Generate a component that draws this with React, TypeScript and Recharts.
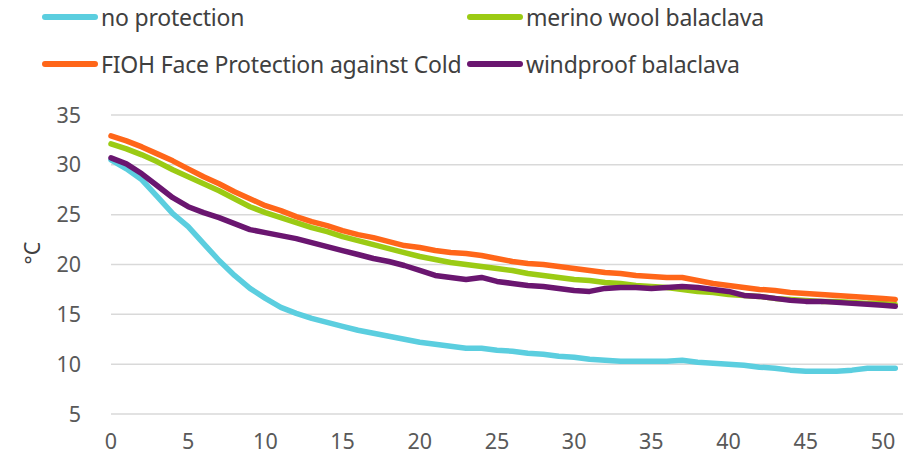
import { CartesianGrid, Line, LineChart, XAxis, YAxis } from "recharts";

// minutes
const minutes = [
  0, 1, 2, 3, 4, 5, 6, 7, 8, 9, 10, 11, 12, 13, 14, 15, 16, 17, 18, 19, 20,
  21, 22, 23, 24, 25, 26, 27, 28, 29, 30, 31, 32, 33, 34, 35, 36, 37, 38, 39,
  40, 41, 42, 43, 44, 45, 46, 47, 48, 49, 50, 50.8,
];

// °C
const noProtection = [
  30.5, 29.6, 28.5, 26.8, 25.1, 23.8, 22.1, 20.4, 18.9, 17.6, 16.6, 15.7,
  15.1, 14.6, 14.2, 13.8, 13.4, 13.1, 12.8, 12.5, 12.2, 12.0, 11.8, 11.6,
  11.6, 11.4, 11.3, 11.1, 11.0, 10.8, 10.7, 10.5, 10.4, 10.3, 10.3, 10.3,
  10.3, 10.4, 10.2, 10.1, 10.0, 9.9, 9.7, 9.6, 9.4, 9.3, 9.3, 9.3, 9.4, 9.6,
  9.6, 9.6,
];
const merino = [
  32.1, 31.6, 31.0, 30.3, 29.5, 28.8, 28.1, 27.4, 26.6, 25.8, 25.2, 24.7,
  24.2, 23.7, 23.3, 22.8, 22.4, 22.0, 21.6, 21.2, 20.8, 20.5, 20.2, 20.0,
  19.8, 19.6, 19.4, 19.1, 18.9, 18.7, 18.5, 18.4, 18.2, 18.1, 17.9, 17.8,
  17.7, 17.5, 17.3, 17.2, 17.0, 16.9, 16.8, 16.6, 16.5, 16.4, 16.3, 16.3,
  16.2, 16.1, 16.1, 16.0,
];
const fioh = [
  32.9, 32.4, 31.8, 31.1, 30.4, 29.6, 28.8, 28.1, 27.3, 26.6, 25.9, 25.4,
  24.8, 24.3, 23.9, 23.4, 23.0, 22.7, 22.3, 21.9, 21.7, 21.4, 21.2, 21.1,
  20.9, 20.6, 20.3, 20.1, 20.0, 19.8, 19.6, 19.4, 19.2, 19.1, 18.9, 18.8,
  18.7, 18.7, 18.4, 18.1, 17.9, 17.7, 17.5, 17.4, 17.2, 17.1, 17.0, 16.9,
  16.8, 16.7, 16.6, 16.5,
];
const windproof = [
  30.7, 30.1, 29.1, 27.9, 26.7, 25.8, 25.2, 24.7, 24.1, 23.5, 23.2, 22.9,
  22.6, 22.2, 21.8, 21.4, 21.0, 20.6, 20.3, 19.9, 19.4, 18.9, 18.7, 18.5,
  18.7, 18.3, 18.1, 17.9, 17.8, 17.6, 17.4, 17.3, 17.6, 17.7, 17.7, 17.6,
  17.7, 17.8, 17.7, 17.5, 17.3, 16.9, 16.8, 16.6, 16.4, 16.3, 16.3, 16.2,
  16.1, 16.0, 15.9, 15.8,
];

const xTicks = [0, 5, 10, 15, 20, 25, 30, 35, 40, 45, 50];
const yTicks = [5, 10, 15, 20, 25, 30, 35];

const series = [
  { key: "noProtection", name: "no protection", color: "#5BCEDF" },
  { key: "merino", name: "merino wool balaclava", color: "#9BCB14" },
  { key: "fioh", name: "FIOH Face Protection against Cold", color: "#FF6619" },
  { key: "windproof", name: "windproof balaclava", color: "#6A1670" },
];

const data = minutes.map((t, i) => ({
  t,
  noProtection: noProtection[i],
  merino: merino[i],
  fioh: fioh[i],
  windproof: windproof[i],
}));

const font = "'Noto Sans', 'Open Sans', sans-serif";

function TopLegend() {
  return (
    <div
      style={{
        position: "absolute",
        top: 3,
        left: 42,
        display: "grid",
        gridTemplateColumns: "425px 400px",
        rowGap: 19,
        fontFamily: font,
        fontSize: 23,
        color: "#404040",
        zIndex: 2,
      }}
    >
      {series.map((s) => (
        <div key={s.key} style={{ display: "flex", alignItems: "center", height: 28 }}>
          <span
            style={{
              display: "inline-block",
              width: 56,
              height: 6,
              borderRadius: 3,
              background: s.color,
              marginRight: 3,
            }}
          />
          <span style={{ whiteSpace: "nowrap", letterSpacing: -0.2 }}>{s.name}</span>
        </div>
      ))}
    </div>
  );
}

export default function App() {
  return (
    <div style={{ position: "absolute", left: 0, top: 0, width: 916, height: 465, background: "#fff" }}>
      <TopLegend />
      <LineChart
        width={916}
        height={465}
        data={data}
        margin={{ top: 115, right: 13, bottom: 21, left: 31 }}
      >
        <CartesianGrid vertical={false} stroke="#d9d9d9" strokeWidth={1.5} />
        <XAxis
          dataKey="t"
          type="number"
          domain={[0, 51.3]}
          ticks={xTicks}
          height={30}
          axisLine={false}
          tickLine={false}
          tickSize={0}
          tickMargin={20}
          tick={{ fill: "#595959", fontSize: 21.5, fontFamily: font }}
        />
        <YAxis
          width={80}
          domain={[5, 35]}
          ticks={yTicks}
          axisLine={false}
          tickLine={false}
          tickSize={0}
          tickMargin={2}
          tick={{ fill: "#595959", fontSize: 21.5, fontFamily: font, textAnchor: "end", dx: -28 }}
          label={{
            value: "°C",
            angle: -90,
            position: "insideLeft",
            offset: 1,
            fill: "#404040",
            fontSize: 21.5,
            fontFamily: font,
          }}
        />
        {series.map((s) => (
          <Line
            key={s.key}
            dataKey={s.key}
            name={s.name}
            stroke={s.color}
            strokeWidth={5.5}
            strokeLinecap="round"
            strokeLinejoin="round"
            dot={false}
            type="linear"
            isAnimationActive={false}
          />
        ))}
      </LineChart>
    </div>
  );
}
